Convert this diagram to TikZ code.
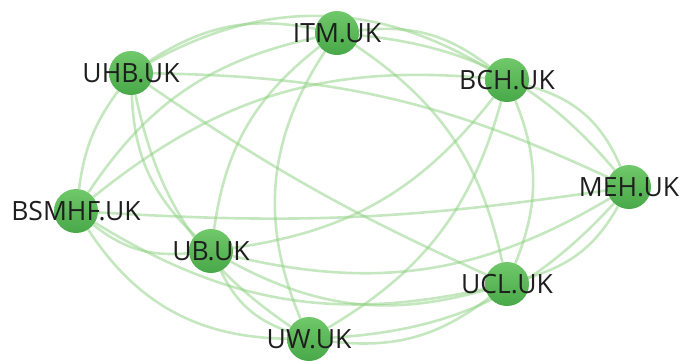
\documentclass[tikz,border=0pt]{standalone}
\usepackage{fontspec}
\setmainfont{Open Sans}
\usetikzlibrary{backgrounds}
\definecolor{edgec}{RGB}{140,208,128}
\definecolor{nodetop}{RGB}{112,200,106}
\definecolor{nodebot}{RGB}{72,168,72}
\definecolor{labc}{RGB}{30,30,30}
\tikzset{
 vnode/.style={circle, minimum size=44pt, inner sep=0pt, top color=nodetop, bottom color=nodebot, draw=none},
 vlabel/.style={font=\fontsize{26.5}{30}\selectfont, text=labc, inner sep=0pt},
 link/.style={draw=edgec, line width=2.6pt, opacity=0.5, bend left=22},
}
\begin{document}
\begin{tikzpicture}[x=1pt,y=-1pt]
\useasboundingbox (0,0) rectangle (681,360);
\node[vnode] (uhb) at (131,73) {};
\node[vnode] (itm) at (337,33) {};
\node[vnode] (bch) at (507,80) {};
\node[vnode] (meh) at (629,187) {};
\node[vnode] (ucl) at (507,284) {};
\node[vnode] (uw) at (309,339) {};
\node[vnode] (ub) at (211,251) {};
\node[vnode] (bsm) at (76,211) {};
\begin{scope}[on background layer]
% ring
\draw[link] (uhb) to (itm);
\draw[link] (itm) to (bch);
\draw[link, bend left=26] (bch) to (meh);
\draw[link] (meh) to (ucl);
\draw[link] (ucl) to (uw);
\draw[link] (uw) to (ub);
\draw[link] (ub) to (bsm);
\draw[link, bend left=14] (bsm) to (uhb);
% skip 2
\draw[link, bend left=30] (uhb) to (bch);
\draw[link] (itm) to (meh);
\draw[link] (bch) to (ucl);
\draw[link] (meh) to (uw);
\draw[link] (ucl) to (ub);
\draw[link, bend left=28] (uw) to (bsm);
\draw[link] (ub) to (uhb);
\draw[link] (bsm) to (itm);
% skip 3
\draw[link, bend left=12] (uhb) to (meh);
\draw[link] (itm) to (ucl);
\draw[link] (bch) to (uw);
\draw[link] (meh) to (ub);
\draw[link] (ucl) to (bsm);
\draw[link] (uw) to (uhb);
\draw[link] (ub) to (itm);
\draw[link] (bsm) to (bch);
% skip 4
\draw[link, bend left=0, bend right=5] (uhb) to (ucl);
\draw[link, bend left=28] (uw) to (itm);
\draw[link] (bch) to (ub);
\draw[link, bend left=0, bend right=6] (bsm) to (meh);
\end{scope}
\node[vlabel] (uhb-l) at (uhb) {UHB.UK};
\node[vlabel] (itm-l) at (itm) {ITM.UK};
\node[vlabel] (bch-l) at (bch) {BCH.UK};
\node[vlabel] (meh-l) at (meh) {MEH.UK};
\node[vlabel] (ucl-l) at (ucl) {UCL.UK};
\node[vlabel] (uw-l) at (uw) {UW.UK};
\node[vlabel] (ub-l) at (ub) {UB.UK};
\node[vlabel] (bsm-l) at (bsm) {BSMHF.UK};
\end{tikzpicture}
\end{document}
